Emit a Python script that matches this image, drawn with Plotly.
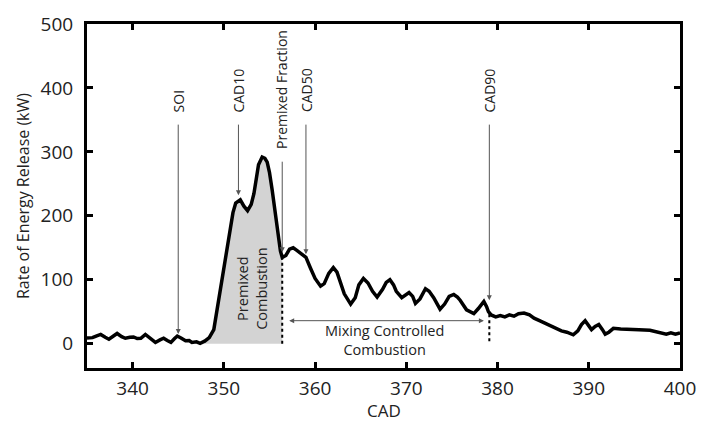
import plotly.graph_objects as go

# ---- data ----
cad = [335.0, 335.6, 336.0, 336.5, 337.0, 337.4, 337.9, 338.3, 338.8, 339.2, 339.7, 340.1, 340.5,
       340.9, 341.4, 342.0, 342.5, 343.0, 343.4, 343.8, 344.2, 344.6, 344.9, 345.3, 345.8, 346.2,
       346.5, 347.0, 347.4, 347.9, 348.4, 348.9, 349.1, 349.5, 350.0, 350.4, 350.7, 351.0, 351.3,
       351.8, 352.2, 352.6, 353.0, 353.3, 353.6, 353.8, 354.2, 354.5, 354.75, 355.0, 355.3, 355.6,
       355.9, 356.2, 356.4, 356.8, 357.2, 357.6, 358.0, 358.5, 359.0, 359.5, 360.0, 360.6, 361.0,
       361.5, 362.0, 362.4, 362.8, 363.2, 363.9, 364.4, 364.8, 365.3, 365.8, 366.3, 366.8, 367.4,
       367.8, 368.2, 368.6, 368.9, 369.5, 370.0, 370.3, 370.7, 371.0, 371.5, 372.1, 372.5, 373.0,
       373.7, 374.2, 374.7, 375.2, 375.6, 375.9, 376.6, 377.0, 377.4, 377.9, 378.5, 378.8, 379.0,
       379.3, 379.8, 380.3, 380.8, 381.3, 381.8, 382.3, 382.9, 383.5, 384.0, 384.6, 385.2, 385.8,
       386.4, 387.0, 387.6, 388.3, 388.8, 389.2, 389.6, 390.0, 390.3, 390.7, 391.1, 391.5, 391.8,
       392.2, 392.7, 393.5, 394.5, 395.5, 396.7, 397.5, 398.0, 398.5, 399.0, 399.5, 400.0]
rate = [9, 9.5, 12, 14.5, 10, 7, 12, 16, 11, 8.5, 10, 10.5, 8,
        8.5, 14.5, 7, 2, 6, 8.5, 5, 2, 8, 12, 9, 4.5, 5,
        2, 3, 0.5, 4, 9.5, 22, 40, 75, 115, 155, 185, 205, 220,
        225, 215, 208, 218, 235, 262, 280, 292, 290, 284, 268, 240, 205,
        172, 145, 135, 138, 148, 150, 146, 140, 135, 118, 102, 90, 94,
        110, 119, 112, 95, 78, 62, 72, 92, 102, 95, 82, 73, 85,
        96, 100, 92, 82, 72, 78, 80, 74, 63, 70, 86, 82, 72,
        54, 62, 74, 77, 73, 68, 53, 50, 47, 55, 66, 58, 50,
        45, 42, 44, 42, 45, 43, 47, 48, 45, 40, 36, 32, 27,
        24, 20, 18, 14, 20, 30, 36, 28, 22, 27, 30, 22, 15,
        18, 24, 23, 23, 22, 21, 18, 16, 15, 17, 15, 17]

premix_start, premix_end = 347.9, 356.4
mixing_end = 379.1

markers = ["SOI", "CAD10", "Premixed Fraction", "CAD50", "CAD90"]
marker_cad = [345.0, 351.6, 356.4, 359.0, 379.1]
marker_tip = [15, 232, 143, 140, 68]
marker_tail = [345, 345, 287, 345, 345]

x_ticks = [340, 350, 360, 370, 380, 390, 400]
y_ticks = [0, 100, 200, 300, 400, 500]

fig = go.Figure()

# shaded premixed region
fx = [c for c in cad if premix_start <= c <= premix_end]
fy = [r for c, r in zip(cad, rate) if premix_start <= c <= premix_end]
fig.add_trace(go.Scatter(x=fx, y=fy, mode="lines", line=dict(width=0, color="rgba(0,0,0,0)"),
                         fill="tozeroy", fillcolor="#d3d3d3", showlegend=False, hoverinfo="skip"))

fig.add_trace(go.Scatter(x=cad, y=rate, mode="lines", line=dict(color="black", width=3.5),
                         showlegend=False))

# dotted boundary lines
def val_at(x):
    for i in range(len(cad) - 1):
        if cad[i] <= x <= cad[i + 1]:
            t = (x - cad[i]) / (cad[i + 1] - cad[i])
            return rate[i] + t * (rate[i + 1] - rate[i])
    return rate[-1]

fig.add_shape(type="line", x0=premix_end, x1=premix_end, y0=0, y1=val_at(premix_end),
              line=dict(color="black", width=2, dash="dot"))
fig.add_shape(type="line", x0=mixing_end, x1=mixing_end, y0=4, y1=val_at(mixing_end),
              line=dict(color="black", width=2, dash="dot"))

font = "Open Sans, Arial, sans-serif"
ann = []
for name, xc, tip, tail in zip(markers, marker_cad, marker_tip, marker_tail):
    ann.append(dict(x=xc, y=tip, ax=xc, ay=tail, xref="x", yref="y", axref="x", ayref="y",
                    text="", showarrow=True, arrowhead=2, arrowsize=1, arrowwidth=1,
                    arrowcolor="#555555"))
    ann.append(dict(x=xc, y=tail + 14, xref="x", yref="y", text=name, showarrow=False,
                    textangle=-90, xanchor="center", yanchor="bottom",
                    font=dict(family=font, size=14, color="#222")))

# double arrow
ann.append(dict(x=378.5, y=36, ax=357.0, ay=36, xref="x", yref="y", axref="x", ayref="y",
                text="", showarrow=True, arrowhead=2, arrowside="end+start", arrowsize=1,
                arrowwidth=1, arrowcolor="#555555"))
ann.append(dict(x=367.6, y=6, xref="x", yref="y", text="Mixing Controlled<br>Combustion",
                showarrow=False, font=dict(family=font, size=14.5, color="#222")))
ann.append(dict(x=353.1, y=86, xref="x", yref="y", text="Premixed<br>Combustion", showarrow=False,
                textangle=-90, font=dict(family=font, size=14.5, color="#222")))

# axis titles
ann.append(dict(x=0.5, xref="paper", y=0, yref="paper", yanchor="top", yshift=-29,
                text="CAD", showarrow=False, font=dict(family=font, size=17, color="#222")))
ann.append(dict(x=0, xref="paper", y=0.5, yref="paper", text="Rate of Energy Release (kW)",
                textangle=-90, showarrow=False, xshift=-64, xanchor="center",
                font=dict(family=font, size=16, color="#222")))
fig.update_layout(annotations=ann)

axis_common = dict(showline=True, linewidth=3, linecolor="black", mirror="ticks",
                   ticks="inside", ticklen=6, tickwidth=2.5, tickcolor="black",
                   showgrid=False, zeroline=False,
                   tickfont=dict(family=font, size=19, color="#222"))

fig.update_xaxes(range=[335, 400], tickvals=x_ticks, ticklabelstandoff=1, **axis_common)
fig.update_yaxes(range=[-38, 500], tickvals=y_ticks, ticklabelstandoff=7, **axis_common)

fig.update_layout(width=714, height=421, margin=dict(l=87, r=34, t=11, b=53),
                  plot_bgcolor="white", paper_bgcolor="white")

fig.write_html("out.html")
